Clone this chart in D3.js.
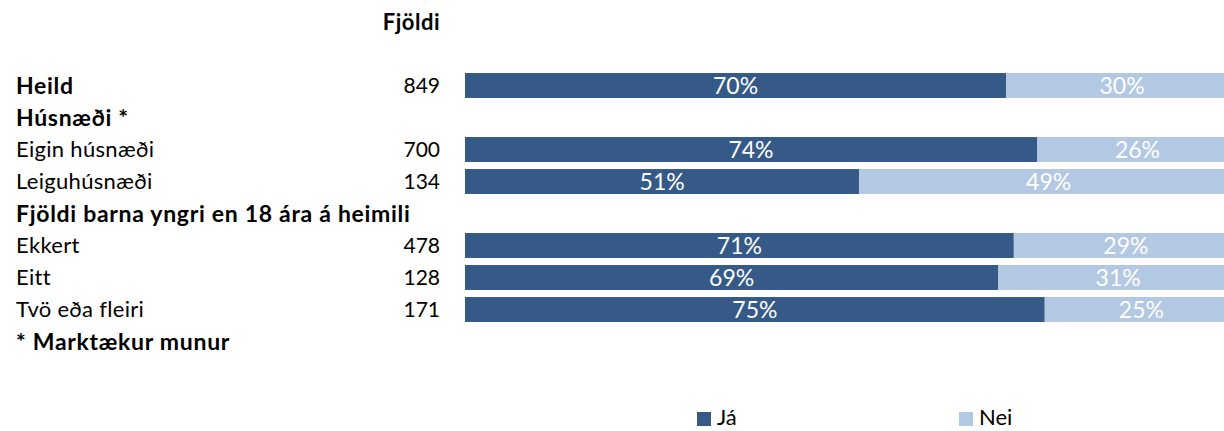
<!DOCTYPE html>
<html><head><meta charset="utf-8">
<script src="https://cdn.jsdelivr.net/npm/d3@7"></script>
<style>html,body{margin:0;padding:0;background:#fff;overflow:hidden}</style>
</head><body>
<svg id="chart" width="1224" height="431"></svg>
<script>
const rowLabels = ["Heild","Húsnæði *","Eigin húsnæði","Leiguhúsnæði","Fjöldi barna yngri en 18 ára á heimili","Ekkert","Eitt","Tvö eða fleiri","* Marktækur munur"];
const rowBold = [true,true,false,false,true,false,false,false,true];
const counts = ["849","","700","134","","478","128","171",""];
const jaValues = [70,null,74,51,null,71,69,75,null];
const neiValues = [30,null,26,49,null,29,31,25,null];
const seriesNames = ["Já","Nei"];
const colors = ["#355A87","#B3C8E3"];

const font = "Lato, 'Open Sans', sans-serif";
const svg = d3.select("#chart");
const y = d3.scaleBand().domain(d3.range(rowLabels.length)).range([69.5, 357.5]).paddingInner(0.22).paddingOuter(0.11);
const x = d3.scaleLinear().domain([0,100]).range([465,1238]);

svg.append("text").attr("x",440).attr("y",30).attr("text-anchor","end")
  .attr("font-family",font).attr("font-size",22).attr("font-weight","bold").attr("letter-spacing",0.5).text("Fjöldi");

const rows = svg.selectAll("g.row").data(rowLabels.map((l,i)=>({l,i}))).join("g").attr("class","row");
rows.append("text").attr("x",16).attr("y",d=>y(d.i)+y.bandwidth()/2).attr("dy","0.35em")
  .attr("font-family",font).attr("font-size",d=>rowBold[d.i]?23:22).attr("font-weight",d=>rowBold[d.i]?"bold":"normal")
  .attr("letter-spacing",d=>rowBold[d.i]?0.7:0.3)
  .text(d=>d.l);
rows.append("text").attr("x",440).attr("y",d=>y(d.i)+y.bandwidth()/2).attr("dy","0.35em").attr("text-anchor","end")
  .attr("font-family",font).attr("font-size",21).text(d=>counts[d.i]);

const segs = [];
jaValues.forEach((v,i)=>{ if(v!=null){ segs.push({i,s:0,x0:0,x1:v,v}); segs.push({i,s:1,x0:v,x1:v+neiValues[i],v:neiValues[i]}); }});
svg.selectAll("rect.seg").data(segs).join("rect").attr("class","seg")
  .attr("x",d=>x(d.x0)).attr("width",d=>x(d.x1)-x(d.x0))
  .attr("y",d=>y(d.i)).attr("height",y.bandwidth()).attr("fill",d=>colors[d.s]);
svg.selectAll("text.val").data(segs).join("text").attr("class","val")
  .attr("x",d=>(x(d.x0)+x(d.x1))/2).attr("y",d=>y(d.i)+y.bandwidth()/2).attr("dy","0.36em")
  .attr("text-anchor","middle").attr("fill","#fff").attr("font-family",font).attr("font-size",23)
  .text(d=>d.v+"%");

const legX = [697,959];
const leg = svg.selectAll("g.leg").data(seriesNames).join("g").attr("class","leg");
leg.append("rect").attr("x",(d,i)=>legX[i]).attr("y",412).attr("width",14).attr("height",14).attr("fill",(d,i)=>colors[i]);
leg.append("text").attr("x",(d,i)=>legX[i]+20).attr("y",425)
  .attr("font-family",font).attr("font-size",22).text(d=>d);
</script>
</body></html>
